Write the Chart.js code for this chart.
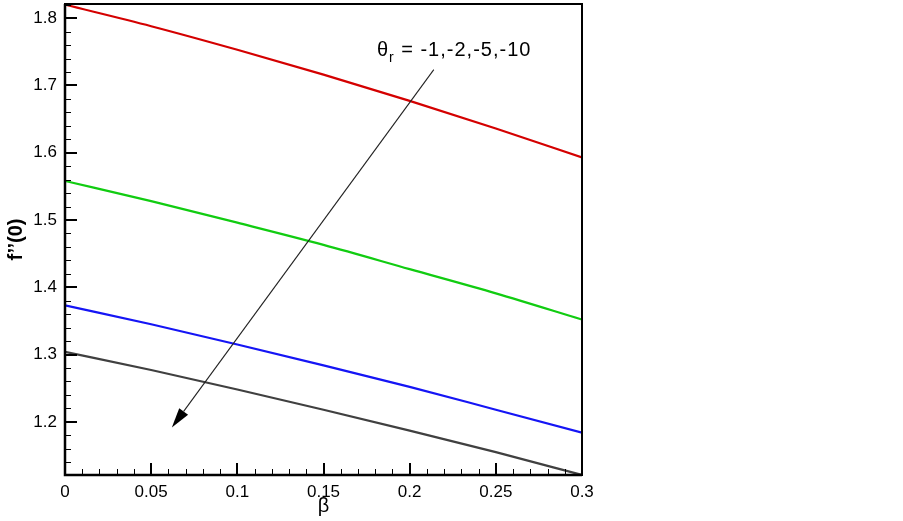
<!DOCTYPE html>
<html>
<head>
<meta charset="utf-8">
<script src="https://cdn.jsdelivr.net/npm/chart.js@4.4.0/dist/chart.umd.min.js"></script>
<style>
  html, body { margin: 0; padding: 0; background: #fff; }
  #wrap { width: 903px; height: 521px; }
</style>
</head>
<body>
<div id="wrap"><canvas id="chart" width="903" height="521"></canvas></div>
<script>
// beta values and f''(0) for theta_r = -1, -2, -5, -10
const beta = [0, 0.05, 0.1, 0.15, 0.2, 0.25, 0.3];
const thetaMinus1 = [1.820, 1.788, 1.753, 1.716, 1.677, 1.636, 1.593];
const thetaMinus2 = [1.558, 1.528, 1.496, 1.463, 1.427, 1.391, 1.352];
const thetaMinus5 = [1.373, 1.345, 1.315, 1.284, 1.252, 1.218, 1.184];
const thetaMinus10 = [1.304, 1.277, 1.248, 1.218, 1.187, 1.155, 1.121];

const xTicks = [0, 0.05, 0.1, 0.15, 0.2, 0.25, 0.3];
const yTicks = [1.2, 1.3, 1.4, 1.5, 1.6, 1.7, 1.8];

// arrow annotation, in data units
const arrowFrom = { x: 0.214, y: 1.7235 };
const arrowTo = { x: 0.062, y: 1.1915 };
const noteAt = { x: 0.2258, y: 1.7443 };

const FONT = '"Liberation Sans", Arial, Helvetica, sans-serif';

function series(values) {
  return beta.map((b, i) => ({ x: b, y: values[i] }));
}

const frame = {
  id: "frame",
  afterDraw(chart) {
    const ctx = chart.ctx;
    const a = chart.chartArea;
    const xs = chart.scales.x;
    const ys = chart.scales.y;
    ctx.save();

    // minor ticks (inward)
    ctx.strokeStyle = "#000";
    ctx.lineWidth = 1;
    ctx.beginPath();
    for (let i = 1; i < 30; i++) {
      if (i % 5 === 0) continue;
      const px = Math.round(xs.getPixelForValue(i / 100)) + 0.5;
      ctx.moveTo(px, a.bottom);
      ctx.lineTo(px, a.bottom - 6);
    }
    for (let i = 57; i <= 91; i++) {
      if (i % 5 === 0) continue;
      const py = Math.round(ys.getPixelForValue(i * 0.02)) + 0.5;
      ctx.moveTo(a.left, py);
      ctx.lineTo(a.left + 6, py);
    }
    ctx.stroke();

    // major ticks
    ctx.lineWidth = 2;
    ctx.beginPath();
    xTicks.forEach(v => {
      const px = Math.round(xs.getPixelForValue(v));
      ctx.moveTo(px, a.bottom);
      ctx.lineTo(px, a.bottom - 12);
    });
    yTicks.forEach(v => {
      const py = Math.round(ys.getPixelForValue(v));
      ctx.moveTo(a.left, py);
      ctx.lineTo(a.left + 12, py);
    });
    ctx.stroke();

    // box
    ctx.lineWidth = 2;
    ctx.strokeRect(a.left, a.top, a.right - a.left, a.bottom - a.top);
    ctx.lineWidth = 2.5;
    ctx.beginPath();
    ctx.moveTo(a.left, a.top);
    ctx.lineTo(a.left, a.bottom);
    ctx.lineTo(a.right, a.bottom);
    ctx.stroke();

    // arrow
    const x1 = xs.getPixelForValue(arrowFrom.x), y1 = ys.getPixelForValue(arrowFrom.y);
    const x2 = xs.getPixelForValue(arrowTo.x), y2 = ys.getPixelForValue(arrowTo.y);
    const ang = Math.atan2(y2 - y1, x2 - x1);
    const headLen = 20, headW = 5.5;
    const bx = x2 - headLen * Math.cos(ang), by = y2 - headLen * Math.sin(ang);
    ctx.strokeStyle = "#222";
    ctx.lineWidth = 1.1;
    ctx.beginPath();
    ctx.moveTo(x1, y1);
    ctx.lineTo(bx, by);
    ctx.stroke();
    ctx.fillStyle = "#000";
    ctx.beginPath();
    ctx.moveTo(x2, y2);
    ctx.lineTo(bx + headW * Math.sin(ang), by - headW * Math.cos(ang));
    ctx.lineTo(bx - headW * Math.sin(ang), by + headW * Math.cos(ang));
    ctx.closePath();
    ctx.fill();

    // note text: theta_r = -1,-2,-5,-10
    const big = "20px " + FONT, small = "14px " + FONT;
    ctx.letterSpacing = "1px";
    ctx.font = big;
    const wTheta = ctx.measureText("θ").width;
    const rest = " = -1,-2,-5,-10";
    const wRest = ctx.measureText(rest).width;
    ctx.font = small;
    const wR = ctx.measureText("r").width;
    const total = wTheta + wR + wRest;
    let tx = xs.getPixelForValue(noteAt.x) - total / 2;
    const ty = ys.getPixelForValue(noteAt.y);
    ctx.textBaseline = "alphabetic";
    ctx.textAlign = "left";
    ctx.fillStyle = "#000";
    ctx.font = big;
    ctx.fillText("θ", tx, ty);
    tx += wTheta;
    ctx.font = small;
    ctx.fillText("r", tx, ty + 6);
    tx += wR;
    ctx.font = big;
    ctx.fillText(rest, tx, ty);

    ctx.restore();
  }
};

const lineStyle = {
  borderWidth: 2.2,
  pointRadius: 0,
  tension: 0.4,
  cubicInterpolationMode: "monotone",
  fill: false
};

new Chart(document.getElementById("chart"), {
  type: "line",
  data: {
    datasets: [
      { label: "θr = -1", data: series(thetaMinus1), borderColor: "#d40000", ...lineStyle },
      { label: "θr = -2", data: series(thetaMinus2), borderColor: "#11cc11", ...lineStyle },
      { label: "θr = -5", data: series(thetaMinus5), borderColor: "#1515f5", ...lineStyle },
      { label: "θr = -10", data: series(thetaMinus10), borderColor: "#404040", ...lineStyle }
    ]
  },
  options: {
    responsive: false,
    animation: false,
    layout: { padding: { left: 0, top: 4, right: 321, bottom: 0 } },
    plugins: {
      legend: { display: false },
      tooltip: { enabled: false }
    },
    scales: {
      x: {
        type: "linear",
        min: 0,
        max: 0.3,
        afterBuildTicks: s => { s.ticks = xTicks.map(v => ({ value: v })); },
        afterFit: s => { s.height = 46; s.paddingLeft = 0; s.paddingRight = 0; },
        grid: { display: false, drawTicks: false },
        border: { display: false },
        ticks: {
          padding: 7,
          color: "#000",
          font: { family: FONT, size: 17 },
          maxRotation: 0,
          callback: v => String(v)
        },
        title: {
          display: true,
          text: "β",
          color: "#000",
          font: { family: FONT, size: 20 },
          padding: { top: 0, bottom: 3 }
        }
      },
      y: {
        type: "linear",
        min: 1.121,
        max: 1.821,
        afterBuildTicks: s => { s.ticks = yTicks.map(v => ({ value: v })); },
        afterFit: s => { s.width = 65; s.paddingTop = 0; s.paddingBottom = 0; },
        grid: { display: false, drawTicks: false },
        border: { display: false },
        ticks: {
          padding: 8,
          color: "#000",
          font: { family: FONT, size: 17 },
          callback: v => String(v)
        },
        title: {
          display: true,
          text: "f’’(0)",
          color: "#000",
          font: { family: FONT, size: 20, weight: "bold" },
          padding: { top: 4, bottom: 0 }
        }
      }
    }
  },
  plugins: [frame]
});
</script>
</body>
</html>
